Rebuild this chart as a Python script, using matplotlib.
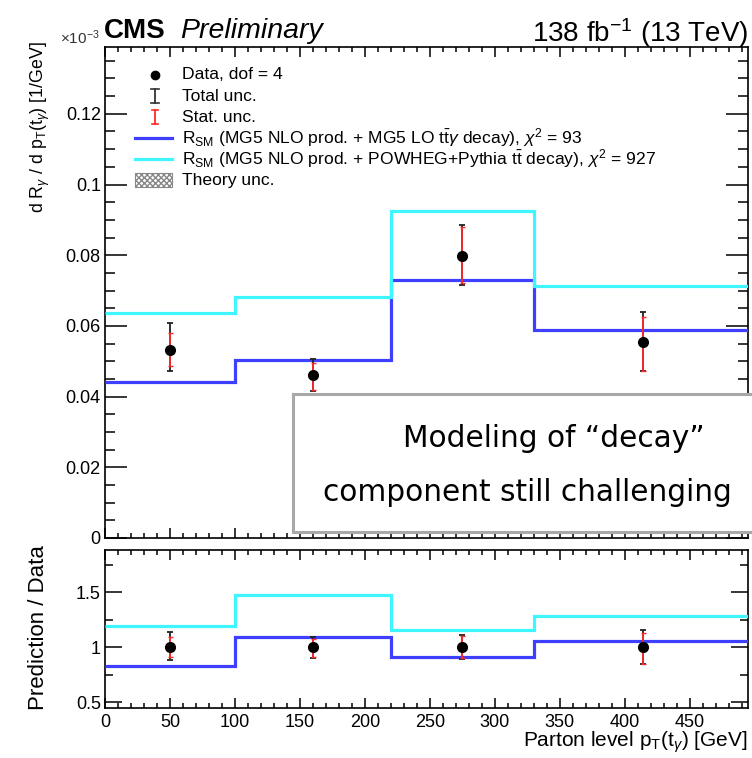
import matplotlib
matplotlib.use("Agg")
import matplotlib.pyplot as plt
import numpy as np
from matplotlib.patches import Rectangle
from matplotlib.ticker import MultipleLocator, FixedLocator

plt.rcParams['font.family'] = ['Liberation Sans', 'DejaVu Sans']
plt.rcParams['mathtext.fontset'] = 'custom'
plt.rcParams['mathtext.rm'] = 'Liberation Sans'
plt.rcParams['mathtext.it'] = 'Liberation Sans:italic'
plt.rcParams['mathtext.bf'] = 'Liberation Sans:bold'

# ---- data ----
bin_edges = [0, 100, 220, 330, 500]
data_x = [50, 160, 275, 414]
data_y = [0.0532, 0.0461, 0.0798, 0.0554]
tot_lo = [0.0472, 0.0415, 0.0716, 0.0472]
tot_hi = [0.0608, 0.0505, 0.0885, 0.0639]
stat_lo = [0.0487, 0.0420, 0.0721, 0.0472]
stat_hi = [0.0580, 0.0496, 0.0880, 0.0625]
pred_mg5 = [0.0441, 0.0504, 0.0730, 0.0588]
pred_powheg = [0.0636, 0.0682, 0.0925, 0.0713]

top_yticks = [0, 0.02, 0.04, 0.06, 0.08, 0.10, 0.12]
top_yticklabels = ["0", "0.02", "0.04", "0.06", "0.08", "0.1", "0.12"]
ratio_yticks = [0.5, 1.0, 1.5]
ratio_yticklabels = ["0.5", "1", "1.5"]
xticks = [0, 50, 100, 150, 200, 250, 300, 350, 400, 450]

legend_labels = [
    "Data, dof = 4",
    "Total unc.",
    "Stat. unc.",
    r"R$_{\rm SM}$ (MG5 NLO prod. + MG5 LO t$\bar{\rm t}\gamma$ decay), $\chi^{2}$ = 93",
    r"R$_{\rm SM}$ (MG5 NLO prod. + POWHEG+Pythia t$\bar{\rm t}$ decay), $\chi^{2}$ = 927",
    "Theory unc.",
]

note_lines = ["Modeling of \u201cdecay\u201d", "component still challenging"]

c_mg5 = '#3f3fff'
c_pow = '#3ff5ff'
c_stat = '#ff2a2a'

data_y = np.array(data_y)
tot_lo, tot_hi = np.array(tot_lo), np.array(tot_hi)
stat_lo, stat_hi = np.array(stat_lo), np.array(stat_hi)
pred_mg5, pred_powheg = np.array(pred_mg5), np.array(pred_powheg)

W, H = 752, 758
fig = plt.figure(figsize=(W / 100, H / 100), dpi=100)

def fx(px):
    return px / W

def fy(py):
    return 1 - py / H

ax = fig.add_axes([fx(105), fy(538), fx(748) - fx(105), fy(47) - fy(538)])
axr = fig.add_axes([fx(105), fy(708), fx(748) - fx(105), fy(550) - fy(708)])

XMAX = 495

def draw_panel(a, pm, pp, y, tl, th, sl, sh):
    a.stairs(pm, bin_edges, color=c_mg5, lw=2.3, baseline=None, zorder=3)
    a.stairs(pp, bin_edges, color=c_pow, lw=2.3, baseline=None, zorder=3)
    a.errorbar(data_x, y, yerr=[y - tl, th - y], fmt='none', ecolor='#222222',
               elinewidth=1.3, capsize=2.5, capthick=1.3, zorder=4)
    a.errorbar(data_x, y, yerr=[y - sl, sh - y], fmt='none', ecolor=c_stat,
               elinewidth=1.3, capsize=1.8, capthick=1.0, zorder=5)
    a.plot(data_x, y, 'o', color='black', ms=7, zorder=6)

draw_panel(ax, pred_mg5, pred_powheg, data_y, tot_lo, tot_hi, stat_lo, stat_hi)
draw_panel(axr, pred_mg5 / data_y, pred_powheg / data_y, data_y / data_y,
           tot_lo / data_y, tot_hi / data_y, stat_lo / data_y, stat_hi / data_y)

for a in (ax, axr):
    a.set_xlim(0, XMAX)
    a.xaxis.set_major_locator(FixedLocator(xticks))
    a.xaxis.set_minor_locator(MultipleLocator(10))
    for s in a.spines.values():
        s.set_linewidth(1.2)
    a.tick_params(which='both', direction='in', top=True, right=True,
                  width=1.1, labelsize=13, colors='black')
    a.tick_params(axis='x', which='major', length=7.5)
    a.tick_params(axis='x', which='minor', length=3.8)

ax.set_ylim(0, 0.1389)
ax.set_yticks(top_yticks)
ax.set_yticklabels(top_yticklabels)
ax.yaxis.set_minor_locator(MultipleLocator(0.005))
ax.tick_params(axis='y', which='major', length=16, pad=3)
ax.tick_params(axis='y', which='minor', length=7.5)
ax.tick_params(axis='x', labelbottom=False)

axr.set_ylim(0.448, 1.885)
axr.set_yticks(ratio_yticks)
axr.set_yticklabels(ratio_yticklabels)
axr.yaxis.set_minor_locator(MultipleLocator(0.25))
axr.tick_params(axis='y', which='major', length=12, pad=3)
axr.tick_params(axis='y', which='minor', length=6)
axr.tick_params(axis='x', pad=4)

# ---- axis titles ----
fig.text(fx(40), fy(41), r"d R$_{\gamma}$ / d p$_{\rm T}$(t$_{\gamma}$) [1/GeV]",
         rotation=90, ha='center', va='top', fontsize=12.8)
fig.text(fx(39), fy(628), "Prediction / Data", rotation=90, ha='center',
         va='center', fontsize=16)
fig.text(fx(748), fy(742), r"Parton level p$_{\rm T}$(t$_{\gamma}$) [GeV]",
         ha='right', va='center', fontsize=15)
fig.text(fx(60), fy(44), r"$\times$10$^{-3}$", ha='left', va='baseline',
         fontsize=11, color='#333333')

# ---- header ----
fig.text(fx(104), fy(38), "CMS", ha='left', va='baseline', fontsize=20,
         fontweight='bold')
fig.text(fx(180), fy(38), "Preliminary", ha='left', va='baseline',
         fontsize=20.5, style='italic')
fig.text(fx(748), fy(42), r"138 fb$^{-1}$ (13 TeV)", ha='right',
         va='baseline', fontsize=20)

# ---- legend ----
row0 = 0.943
dy = 0.0428
tx = 0.120
mx = 0.0778
for i, lab in enumerate(legend_labels):
    ax.text(tx, row0 - i * dy, lab, transform=ax.transAxes, ha='left',
            va='center', fontsize=12.6)
T = ax.transAxes
ax.plot([mx], [row0], 'o', color='black', ms=6, transform=T, clip_on=False)
for i, col, cw in [(1, '#333333', 0.006), (2, c_stat, 0.004)]:
    yc = row0 - i * dy
    ax.plot([mx, mx], [yc - 0.014, yc + 0.014], color=col, lw=1.3, transform=T)
    ax.plot([mx - cw, mx + cw], [yc - 0.014] * 2, color=col, lw=1.2, transform=T)
    ax.plot([mx - cw, mx + cw], [yc + 0.014] * 2, color=col, lw=1.2, transform=T)
ax.plot([0.047, 0.104], [row0 - 3 * dy] * 2, color=c_mg5, lw=2.3, transform=T)
ax.plot([0.047, 0.104], [row0 - 4 * dy] * 2, color=c_pow, lw=2.3, transform=T)
ax.add_patch(Rectangle((0.047, row0 - 5 * dy - 0.014), 0.057, 0.028,
                       transform=T, facecolor='white', edgecolor='#888888',
                       hatch='xxxxxx', lw=0.8))

# ---- annotation box ----
box = Rectangle((fx(293), fy(532)), fx(800) - fx(293), fy(394) - fy(532),
                transform=fig.transFigure, facecolor='white',
                edgecolor='#a8a8a8', lw=2.2, zorder=10)
fig.add_artist(box)
fig.text(fx(403), fy(447), note_lines[0], ha='left', va='baseline',
         fontsize=21.3, family='DejaVu Sans', zorder=11)
fig.text(fx(323), fy(501), note_lines[1], ha='left', va='baseline',
         fontsize=21.3, family='DejaVu Sans', zorder=11)

fig.savefig("out.png", dpi=100)
